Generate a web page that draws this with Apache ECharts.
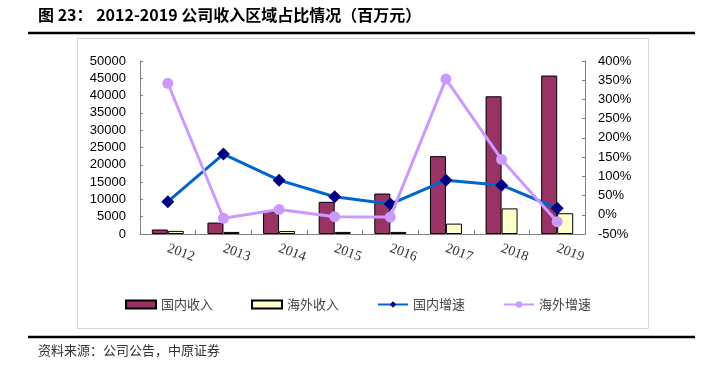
<!DOCTYPE html>
<html><head><meta charset="utf-8">
<script src="https://cdn.jsdelivr.net/npm/echarts@6/dist/echarts.min.js"></script>
<style>html,body{margin:0;padding:0;background:#fff;}#c{width:717px;height:368px;}</style>
</head><body><div id="c"></div>
<script>
var years = ['2012','2013','2014','2015','2016','2017','2018','2019'];
var domesticRevenue = [1300, 3300, 6500, 9300, 11700, 22500, 39800, 45800];
var overseasRevenue = [900, 600, 850, 600, 600, 3000, 7400, 6000];
var domesticGrowth = [34, 158, 90, 47, 28, 90, 77, 17];
var overseasGrowth = [342, -9, 14, -5, -6, 353, 144, -18];
var leftTicks = {min: 0, max: 50000, interval: 5000};
var rightTicks = {min: -50, max: 400, interval: 50};

var chart = echarts.init(document.getElementById('c'), null, {renderer: 'canvas'});
var axisLine = {show: true, lineStyle: {color: '#808080', width: 1}};
chart.setOption({
  animation: false,
  backgroundColor: '#fff',
  grid: {left: 140, right: 132, top: 61, bottom: 134, containLabel: false},
  graphic: [
    {type: 'text', left: 38, top: 7, style: {text: '图 23： 2012-2019 公司收入区域占比情况（百万元）', font: 'bold 16px "Noto Sans CJK SC", sans-serif', fill: '#000'}},
    {type: 'line', shape: {x1: 28, y1: 33, x2: 695, y2: 33}, style: {stroke: '#000', lineWidth: 2.5}},
    {type: 'rect', shape: {x: 77.5, y: 38.5, width: 571, height: 290}, style: {fill: 'none', stroke: '#d4d4d4', lineWidth: 1}, z: -1},
    {type: 'line', shape: {x1: 28, y1: 337, x2: 695, y2: 337}, style: {stroke: '#000', lineWidth: 2.5}},
    {type: 'text', left: 38, top: 344, style: {text: '资料来源：公司公告，中原证券', font: '13px "Noto Sans CJK SC", sans-serif', fill: '#333'}}
  ],
  legend: {
    left: 120, top: 293, itemWidth: 30, itemHeight: 8, itemGap: 38,
    textStyle: {fontSize: 13, color: '#444', fontFamily: '"Noto Sans CJK SC", sans-serif'},
    data: [
      {name: '国内收入', icon: 'rect'},
      {name: '海外收入', icon: 'rect'},
      {name: '国内增速'},
      {name: '海外增速'}
    ]
  },
  xAxis: {
    type: 'category', data: years,
    axisLine: axisLine,
    axisTick: {show: true, inside: true, length: 4, lineStyle: {color: '#808080'}},
    axisLabel: {rotate: -20, margin: 14, fontSize: 14, color: '#333', fontFamily: '"Liberation Serif", serif'}
  },
  yAxis: [
    {type: 'value', min: leftTicks.min, max: leftTicks.max, interval: leftTicks.interval,
     axisLine: axisLine, splitLine: {show: false},
     axisTick: {show: true, inside: true, length: 3, lineStyle: {color: '#808080'}},
     axisLabel: {fontSize: 13, color: '#000', margin: 14, formatter: function (v) { return String(v); }, fontFamily: '"Liberation Sans", Arial, sans-serif'}},
    {type: 'value', min: rightTicks.min, max: rightTicks.max, interval: rightTicks.interval,
     position: 'right',
     axisLine: axisLine, splitLine: {show: false},
     axisTick: {show: true, inside: true, length: 3, lineStyle: {color: '#808080'}},
     axisLabel: {fontSize: 13, color: '#000', margin: 13, formatter: '{value}%', fontFamily: '"Liberation Sans", Arial, sans-serif'}}
  ],
  series: [
    {name: '国内收入', type: 'bar', data: domesticRevenue, barWidth: 16, barGap: '0%',
     itemStyle: {color: '#993366', borderColor: '#000', borderWidth: 1}},
    {name: '海外收入', type: 'bar', data: overseasRevenue, barWidth: 16, barGap: '0%',
     itemStyle: {color: '#FFFFCC', borderColor: '#000', borderWidth: 1}},
    {name: '国内增速', type: 'line', yAxisIndex: 1, data: domesticGrowth,
     symbol: 'diamond', symbolSize: 13, lineStyle: {color: '#0066CC', width: 3},
     itemStyle: {color: '#000080'}, z: 3},
    {name: '海外增速', type: 'line', yAxisIndex: 1, data: overseasGrowth,
     symbol: 'circle', symbolSize: 11, lineStyle: {color: '#CC99FF', width: 3},
     itemStyle: {color: '#CC99FF'}, z: 4}
  ]
});
</script></body></html>
